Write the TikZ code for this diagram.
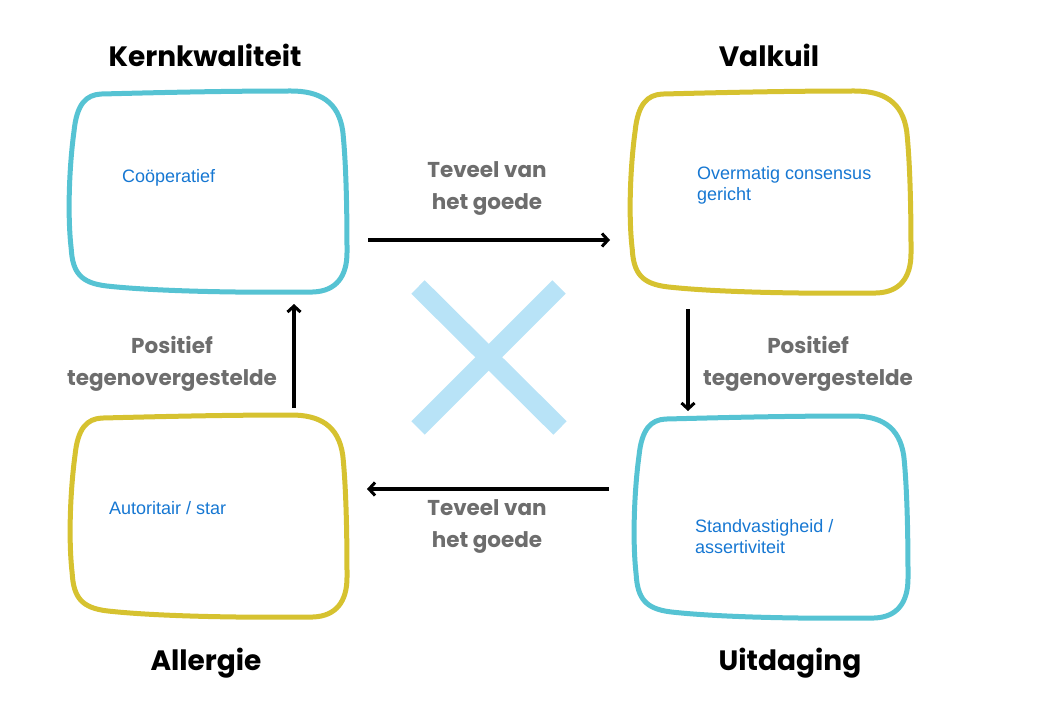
\documentclass[tikz,border=0pt]{standalone}
\usepackage{fontspec}
\setmainfont{Liberation Sans}
\newfontfamily\titlefont{Poppins}
\usetikzlibrary{arrows.meta}
\definecolor{boxcyan}{RGB}{86,195,211}
\definecolor{boxyellow}{RGB}{214,194,48}
\definecolor{crosscol}{RGB}{184,227,247}
\definecolor{txtblue}{RGB}{22,119,210}
\definecolor{lblgray}{RGB}{109,109,109}
\newcommand\blobshape[5]{%
  \begin{scope}[shift={(#1,#2)}, xscale=#3, yscale=#4]
    \draw[line width=5pt, line join=round, #5]
      (0.12,0.015) .. controls (0.4,0.005) and (0.6,0.0) .. (0.80,0.0)
      .. controls (0.90,0.0) and (0.97,0.05) .. (0.985,0.2)
      .. controls (1.0,0.4) and (1.0,0.7) .. (1.0,0.80)
      .. controls (1.0,0.92) and (0.96,0.99) .. (0.88,0.995)
      .. controls (0.6,1.0) and (0.3,0.99) .. (0.14,0.965)
      .. controls (0.05,0.95) and (0.02,0.9) .. (0.015,0.78)
      .. controls (0.0,0.6) and (0.01,0.35) .. (0.025,0.2)
      .. controls (0.035,0.06) and (0.07,0.02) .. (0.12,0.015) -- cycle;
  \end{scope}}
\tikzset{
  title/.style={font=\titlefont\bfseries\fontsize{28}{32}\selectfont, text=black, inner sep=0pt},
  lbl/.style={font=\titlefont\bfseries\fontsize{21.5}{32}\selectfont, text=lblgray, align=center, inner sep=0pt},
  boxtxt/.style={font=\fontsize{18}{21}\selectfont, text=txtblue, align=left, anchor=west, inner sep=0pt},
  conn/.style={line width=3.2pt, -{Straight Barb[length=6pt,width=13pt,line width=3pt]}},
  crossline/.style={line width=19pt, crosscol, line cap=butt}
}
\begin{document}
\begin{tikzpicture}[x=1pt,y=-1pt]
\useasboundingbox (0,0) rectangle (1051,722);
% boxes
\blobshape{67}{91}{280}{202}{boxcyan}
\blobshape{628}{91}{283}{203}{boxyellow}
\blobshape{68}{415}{279}{203}{boxyellow}
\blobshape{632}{416}{276}{203}{boxcyan}
% cross
\coordinate (xa) at (418,287);
\coordinate (xb) at (560,428);
\coordinate (xc) at (559,287);
\coordinate (xd) at (418,428);
\draw[crossline] (xa) -- (xb);
\draw[crossline] (xc) -- (xd);
% titles
\node[title] (tkern) at (205,55) {Kernkwaliteit};
\node[title] (tvalk) at (769,55) {Valkuil};
\node[title] (taller) at (206,663) {Allergie};
\node[title] (tuitd) at (790,663) {Uitdaging};
% box texts
\node[boxtxt] (bkern) at (122,178) {Coöperatief};
\node[boxtxt] (bvalk) at (697,185) {Overmatig consensus\\gericht};
\node[boxtxt] (baller) at (109,508) {Autoritair / star};
\node[boxtxt] (buitd) at (695,537) {Standvastigheid /\\assertiviteit};
% labels
\node[lbl] (ltop) at (487,189) {Teveel van\\het goede};
\node[lbl] (lbot) at (487,526) {Teveel van\\het goede};
\node[lbl] (lleft) at (172,364) {Positief\\tegenovergestelde};
\node[lbl] (lright) at (808,364) {Positief\\tegenovergestelde};
% connectors
\coordinate (a1s) at (368,240); \coordinate (a1e) at (610,240);
\coordinate (a2s) at (688,309); \coordinate (a2e) at (688,411);
\coordinate (a3s) at (609,489); \coordinate (a3e) at (367,489);
\coordinate (a4s) at (294,408); \coordinate (a4e) at (294,304);
\draw[conn] (a1s) -- (a1e);
\draw[conn] (a2s) -- (a2e);
\draw[conn] (a3s) -- (a3e);
\draw[conn] (a4s) -- (a4e);
\end{tikzpicture}
\end{document}
